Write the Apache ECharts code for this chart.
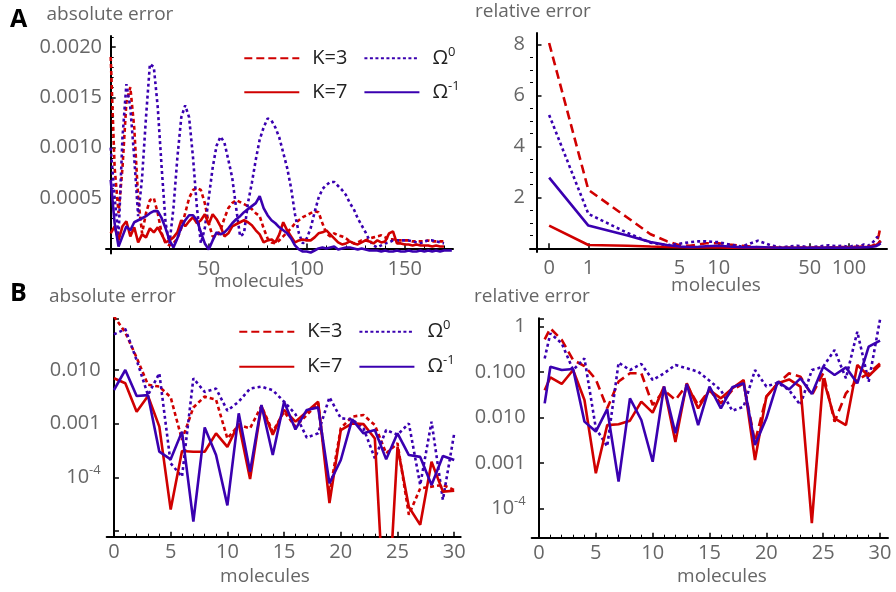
<!DOCTYPE html>
<html>
<head>
<meta charset="utf-8">
<script src="https://cdn.jsdelivr.net/npm/echarts@6/dist/echarts.min.js"></script>
<style>
  html, body { margin: 0; padding: 0; background: #ffffff; }
  #chart { width: 896px; height: 592px; }
</style>
</head>
<body>
<div id="chart"></div>
<script>
// ---------- Panel A, absolute error: molecules 0, 2, 4, ... ----------
const absStep = 2;
const absK3 = [0.0019, 0.0008, 0.00035, 0.0008, 0.00145, 0.0016, 0.0012, 0.0005, 0.00015, 0.00035,
  0.00048, 0.0005, 0.00035, 0.00015, 0.00005, 0.00003, 0.00005, 0.0001, 0.0002, 0.00035,
  0.0005, 0.00058, 0.0006, 0.00058, 0.00045, 0.00025, 0.00012, 0.00012, 0.00018, 0.0003,
  0.0004, 0.00045, 0.00048, 0.00046, 0.00044, 0.00042, 0.00039, 0.00035, 0.00032, 0.0002,
  0.0001, 0.00006, 0.00005, 0.00008, 0.00012, 0.00016, 0.0002, 0.00025, 0.00028, 0.00031,
  0.00033, 0.00035, 0.00037, 0.00036, 0.00025, 0.00015, 0.00012, 0.00015, 0.00013, 0.00012,
  0.0001, 0.00007, 0.00005, 0.00006, 0.00008, 0.00008, 0.0001, 0.00011, 0.00012, 0.00013,
  0.00011, 0.00009, 0.00009, 0.00008, 0.00008, 0.00008, 0.00008, 0.00007, 0.00007, 0.00007,
  0.00007, 0.00008, 0.00007, 0.00007, 0.00007, 0.00007];
const absK7 = [0.00015, 0.00022, 0.00008, 0.00022, 0.00027, 0.00012, 0.00021, 0.00006, 0.00014, 0.00011,
  0.0002, 0.00016, 0.00021, 0.00014, 0.00006, 0.00008, 0.00011, 0.00016, 0.00028, 0.00022,
  0.00027, 0.00031, 0.00025, 0.00028, 0.00034, 0.00024, 0.00034, 0.00029, 0.00022, 0.00012,
  0.00015, 0.00022, 0.00024, 0.00026, 0.00028, 0.00026, 0.00023, 0.00018, 0.00014, 0.00006,
  0.00008, 0.00009, 0.00006, 0.00014, 0.00026, 0.00018, 0.00012, 0.00006, 0.00008, 0.00009,
  0.00008, 0.00008, 0.00011, 0.00015, 0.00016, 0.00018, 0.00014, 0.0001, 0.00006, 0.00004,
  0.00005, 0.00007, 0.00005, 0.00004, 0.00006, 0.00008, 0.00007, 0.00005, 0.00008, 0.00006,
  0.00007, 0.00015, 0.00017, 0.00005, 0.00005, 0.00004, 0.00004, 0.00003, 0.00004, 0.00003,
  0.00003, 0.00003, 0.00002, 0.00003, 0.00002, 0.00002];
const absOmega0 = [0.001, 0.0005, 0.00012, 0.0011, 0.00163, 0.0014, 0.0009, 0.00032, 0.0007, 0.0013,
  0.00183, 0.0018, 0.0014, 0.0008, 0.00025, 0.00005, 0.0004, 0.0009, 0.0013, 0.00142,
  0.0013, 0.0009, 0.0004, 0.00005, 0.0002, 0.0005, 0.0008, 0.00102, 0.00111, 0.00105,
  0.00088, 0.0007, 0.0004, 0.00012, 0.00015, 0.00045, 0.00065, 0.00088, 0.00108, 0.0012,
  0.00129, 0.00127, 0.0012, 0.0011, 0.00095, 0.0008, 0.0006, 0.00034, 0.00015, 0.00005,
  0.0001, 0.0002, 0.00036, 0.0005, 0.00059, 0.00063, 0.00066, 0.00066, 0.00062, 0.00058,
  0.00053, 0.00045, 0.00039, 0.0003, 0.00023, 0.00016, 0.00008, 0.00003, 0.00001, 0.00003,
  0.00005, 0.00006, 0.00008, 0.00008, 0.00008, 0.00008, 0.00008, 0.00007, 0.00006, 0.00005,
  0.00007, 0.00008, 0.00008, 0.00007, 0.00006, 0.00005];
const absOmegaM1 = [0.00068, 0.00025, 0.00002, 0.00012, 0.00022, 0.00018, 0.00026, 0.00028, 0.0003, 0.00032,
  0.00035, 0.00037, 0.00037, 0.0003, 0.0002, 0.00008, 0.00001, 0.0001, 0.00021, 0.00028,
  0.00033, 0.00033, 0.00028, 0.00016, 0.00005, -0.00001, 0.00008, 0.00016, 0.00014, 0.00016,
  0.0002, 0.00025, 0.00029, 0.00032, 0.00036, 0.00039, 0.00042, 0.00045, 0.00052, 0.0004,
  0.00033, 0.00028, 0.00025, 0.00021, 0.00018, 0.00015, 0.0001, 0.00003, -0.00001, -0.00003,
  -0.00003, -0.00004, -0.00002, 0, 0.00001, 0, 0.00001, 0.00002, -0.00001, 0,
  0.00001, 0.00001, 0, -0.00001, 0, -0.00001, -0.00002, -0.00002, -0.00002, -0.00003,
  -0.00002, -0.00003, -0.00003, -0.00002, -0.00003, -0.00003, -0.00002, -0.00003, -0.00003, -0.00002,
  -0.00003, -0.00002, -0.00003, -0.00002, -0.00003, -0.00002, -0.00002, -0.00002];
const absXTicks = [50, 100, 150];
const absYTicks = [0.0005, 0.001, 0.0015, 0.002];

// ---------- Panel A, relative error (log-spaced molecules; 0 sits at 0.5) ----------
const relMolecules = [0, 1, 2, 3, 4, 5, 6, 7, 8, 10, 12, 15, 20, 25, 30, 40, 50, 60, 70, 80,
  90, 100, 110, 120, 130, 140, 150, 160, 165, 170, 175];
const relK3 = [8.05, 2.29, 1.2, 0.55, 0.28, 0.12, 0.1, 0.15, 0.2, 0.2, 0.15, 0.1, 0.04, 0.03, 0.02,
  0.02, 0.03, 0.02, 0.03, 0.04, 0.05, 0.04, 0.06, 0.05, 0.08, 0.06, 0.1, 0.15, 0.3, 0.55, 0.88];
const relK7 = [0.89, 0.13, 0.1, 0.07, 0.05, 0.04, 0.03, 0.03, 0.03, 0.03, 0.02, 0.02, 0.02, 0.02, 0.02,
  0.02, 0.02, 0.02, 0.02, 0.03, 0.03, 0.03, 0.04, 0.05, 0.05, 0.06, 0.08, 0.1, 0.15, 0.22, 0.3];
const relOmega0 = [5.23, 1.35, 0.6, 0.22, 0.12, 0.18, 0.24, 0.27, 0.27, 0.24, 0.15, 0.07, 0.3, 0.12, 0.04,
  0.1, 0.04, 0.08, 0.12, 0.08, 0.1, 0.05, 0.12, 0.08, 0.15, 0.1, 0.2, 0.35, 0.45, 0.3, 0.2];
const relOmegaM1 = [2.77, 0.89, 0.5, 0.25, 0.13, 0.07, 0.05, 0.06, 0.08, 0.1, 0.07, 0.04, 0.05, 0.03, 0.02,
  0.02, 0.02, 0.02, 0.03, 0.02, 0.03, 0.02, 0.03, 0.03, 0.04, 0.04, 0.06, 0.08, 0.12, 0.15, 0.2];
const relXTicks = [0, 1, 5, 10, 50, 100];
const relYTicks = [2, 4, 6, 8];

// ---------- Panel B, absolute error: molecules 0..30 ----------
const bMolecules = [0, 1, 2, 3, 4, 5, 6, 7, 8, 9, 10, 11, 12, 13, 14, 15, 16, 17, 18, 19, 20,
  21, 22, 23, 24, 25, 26, 27, 28, 29, 30];
const bAbsK3 = [0.1, 0.05, 0.017, 0.0053, 0.0049, 0.0031, 0.0005, 0.002, 0.0032, 0.0028, 0.00053,
  0.00094, 0.00082, 0.00213, 0.00071, 0.00167, 0.00088, 0.00145, 0.0024, 0.00005, 0.00082,
  0.00135, 0.00145, 0.00094, 0.00028, 0.00043, 0.00002, 0.000062, 0.000067, 0.000072, 0.000058];
const bAbsK7 = [0.007, 0.00565, 0.00167, 0.00327, 0.00088, 0.000025, 0.00031, 0.0003, 0.0003, 0.00066, 0.00037,
  0.00101, 0.000093, 0.00213, 0.00062, 0.0018, 0.00109, 0.00167, 0.00257, 0.000033, 0.00076,
  0.00101, 0.00098, 0.00053, 0.00000007, 0.00037, 0.000028, 0.000013, 0.000195, 0.000054, 0.000056];
const bAbsOmega0 = [0.046, 0.058, 0.0153, 0.0034, 0.0087, 0.000182, 0.000103, 0.007, 0.0039, 0.0045, 0.00175,
  0.00257, 0.0045, 0.0049, 0.0042, 0.00257, 0.0015, 0.00055, 0.00066, 0.0031, 0.00126,
  0.0012, 0.00082, 0.000226, 0.00076, 0.00062, 0.00101, 0.000072, 0.00109, 0.000038, 0.00066];
const bAbsOmegaM1 = [0.00424, 0.01, 0.00327, 0.0034, 0.0003, 0.000216, 0.00071, 0.000015, 0.00085, 0.00026, 0.00003,
  0.00156, 0.000127, 0.00223, 0.00026, 0.00257, 0.00078, 0.0018, 0.00201, 0.000077, 0.00021,
  0.0012, 0.00066, 0.00076, 0.000216, 0.00066, 0.00026, 0.00024, 0.000072, 0.00025, 0.00021];

// ---------- Panel B, relative error: the 0-molecule point is drawn at 0.5 ----------
const bRelMolecules = [0.5, 1, 2, 3, 4, 5, 6, 7, 8, 9, 10, 11, 12, 13, 14, 15, 16, 17, 18, 19, 20,
  21, 22, 23, 24, 25, 26, 27, 28, 29, 30];
const bRelK3 = [0.526, 0.92, 0.51, 0.185, 0.136, 0.069, 0.0159, 0.062, 0.094, 0.094, 0.0188,
  0.04, 0.0243, 0.052, 0.0188, 0.04, 0.0204, 0.04, 0.0565, 0.0029, 0.0287,
  0.0565, 0.094, 0.079, 0.031, 0.094, 0.0081, 0.034, 0.067, 0.094, 0.156];
const bRelK7 = [0.04, 0.0766, 0.0547, 0.111, 0.0243, 0.00059, 0.0068, 0.0071, 0.0085, 0.0223, 0.0128,
  0.0478, 0.0029, 0.0565, 0.0159, 0.04, 0.0264, 0.0438, 0.067, 0.00116, 0.0287,
  0.0565, 0.069, 0.0478, 0.000047, 0.0728, 0.0096, 0.0068, 0.143, 0.082, 0.143];
const bRelOmega0 = [0.2, 0.71, 0.43, 0.111, 0.2, 0.0058, 0.0023, 0.161, 0.111, 0.151, 0.067,
  0.094, 0.143, 0.121, 0.102, 0.0646, 0.04, 0.0141, 0.0173, 0.111, 0.048,
  0.0585, 0.04, 0.0188, 0.111, 0.131, 0.306, 0.0728, 0.776, 0.0615, 1.45];
const bRelOmegaM1 = [0.0205, 0.131, 0.111, 0.117, 0.0081, 0.0049, 0.0153, 0.00039, 0.0264, 0.0088, 0.00106,
  0.048, 0.0045, 0.0547, 0.0068, 0.048, 0.0159, 0.0462, 0.0565, 0.00247, 0.0096,
  0.0615, 0.0417, 0.0728, 0.0329, 0.131, 0.0863, 0.127, 0.0565, 0.363, 0.492];
const bXTicks = [0, 5, 10, 15, 20, 25, 30];

// ---------- styling ----------
const FONT = "'Open Sans', 'DejaVu Sans', sans-serif";
const GRAY = '#666666';
const INK = '#222222';
const RED = '#d00000';
const BLUE = '#3a00b0';
const LW = 2.6;
const DASH_LONG = [9, 5];
const DASH_SHORT = [4, 3];
const DOTS = [3, 3];

// the relative-error molecule axis is logarithmic, its y-axis crossing at 0.4 molecules
const X_CROSS = 0.4;
const logPos = n => Math.log10(n === 0 ? 0.5 : n) - Math.log10(X_CROSS);

const labelRich = {
  b: { fontSize: 20, lineHeight: 26, color: GRAY, fontFamily: FONT },
  s: { fontSize: 13, lineHeight: 13, verticalAlign: 'top', color: GRAY, fontFamily: FONT }
};
const tickLabel = extra => Object.assign({
  color: GRAY, fontFamily: FONT, fontSize: 20, margin: 6
}, extra);
const axisLine = onZero => ({ onZero, lineStyle: { color: '#000', width: 2 } });
const majorTick = vals => ({
  show: true, inside: true, length: 5, customValues: vals,
  lineStyle: { color: '#000', width: 1.5 }
});
const range = (a, b, step, skip) => {
  const out = [];
  for (let v = a; v <= b + 1e-12; v += step) {
    const r = Math.round(v * 1e6) / 1e6;
    if (!skip(r)) out.push(r);
  }
  return out;
};

function logLabel(v) {
  const e = Math.log10(v);
  const k = Math.round(e);
  if (Math.abs(e - k) > 1e-6) return '';
  if (k === 0) return '1';
  if (k === -1) return '0.100';
  if (k === -2) return '0.010';
  if (k === -3) return '0.001';
  if (k === -4) return '{b|10}{s|-4}';
  return '';
}

function minorAxis(base, vals) {
  return Object.assign({}, base, {
    axisLine: { show: false, onZero: base.axisLine.onZero },
    axisLabel: { show: false },
    axisTick: { show: true, inside: true, length: 3, customValues: vals, lineStyle: { color: '#000', width: 1 } },
    splitLine: { show: false }
  });
}

// ---------- axes ----------
const xA = {
  gridIndex: 0, type: 'value', position: 'bottom', min: -2.4, max: 174.6,
  axisLine: axisLine(true), axisTick: majorTick(absXTicks),
  axisLabel: tickLabel({ customValues: absXTicks }), splitLine: { show: false }
};
const yA = {
  gridIndex: 0, type: 'value', position: 'left', min: -0.00005, max: 0.002108,
  axisLine: axisLine(true), axisTick: majorTick(absYTicks),
  axisLabel: tickLabel({ customValues: absYTicks, margin: 4, formatter: v => v.toFixed(4) }),
  splitLine: { show: false }
};
const xAR = {
  gridIndex: 1, type: 'value', position: 'bottom', min: -0.05, max: 2.69,
  axisLine: axisLine(true), axisTick: majorTick(relXTicks.map(logPos)),
  axisLabel: tickLabel({
    customValues: relXTicks.map(logPos),
    formatter: v => {
      const i = relXTicks.findIndex(t => Math.abs(logPos(t) - v) < 1e-6);
      return i < 0 ? '' : String(relXTicks[i]);
    }
  }),
  splitLine: { show: false }
};
const yAR = {
  gridIndex: 1, type: 'value', position: 'left', min: -0.145, max: 8.443,
  axisLine: axisLine(true), axisTick: majorTick(relYTicks),
  axisLabel: tickLabel({ customValues: relYTicks, margin: 5 }), splitLine: { show: false }
};
const xB = {
  gridIndex: 2, type: 'value', position: 'bottom', min: -0.64, max: 30.57,
  axisLine: axisLine(false), axisTick: majorTick(bXTicks),
  axisLabel: tickLabel({ customValues: bXTicks }), splitLine: { show: false }
};
const yB = {
  gridIndex: 2, type: 'log', logBase: 10, position: 'left', min: 7.81e-6, max: 0.092,
  axisLine: axisLine(true),
  axisTick: { show: true, inside: true, length: 5, lineStyle: { color: '#000', width: 1.5 } },
  axisLabel: tickLabel({ formatter: logLabel, rich: labelRich }),
  splitLine: { show: false }, minorTick: { show: false }
};
const xBR = {
  gridIndex: 3, type: 'value', position: 'bottom', min: -0.642, max: 30.7,
  axisLine: axisLine(false), axisTick: majorTick(bXTicks),
  axisLabel: tickLabel({ customValues: bXTicks }), splitLine: { show: false }
};
const yBR = {
  gridIndex: 3, type: 'log', logBase: 10, position: 'left', min: 2.25e-5, max: 1.53,
  axisLine: axisLine(true),
  axisTick: { show: true, inside: true, length: 5, lineStyle: { color: '#000', width: 1.5 } },
  axisLabel: tickLabel({ formatter: logLabel, rich: labelRich }),
  splitLine: { show: false }, minorTick: { show: false }
};

const xMinorA = range(10, 170, 10, v => v % 50 === 0);
const yMinorA = range(0.0001, 0.0021, 0.0001, v => Math.abs(v / 0.0005 - Math.round(v / 0.0005)) < 1e-6);
const yMinorAR = range(0.5, 8, 0.5, v => v % 2 === 0);
const xMinorB = range(1, 30, 1, v => v % 5 === 0);

// ---------- series ----------
function lineSeries(name, xs, ys, axis, color, dash) {
  return {
    type: 'line', name, xAxisIndex: axis, yAxisIndex: axis,
    data: xs.map((x, i) => [x, ys[i]]),
    symbol: 'none', showSymbol: false, silent: true, clip: true,
    lineStyle: { color, width: LW, type: dash || 'solid', cap: 'butt' },
    itemStyle: { color }
  };
}
const absX = absOmegaM1.map((_, i) => i * absStep);
const relX = relMolecules.map(logPos);

const series = [
  lineSeries('K=3', absX, absK3, 0, RED, DASH_SHORT),
  lineSeries('Ω0', absX, absOmega0, 0, BLUE, DOTS),
  lineSeries('K=7', absX, absK7, 0, RED),
  lineSeries('Ω-1', absX, absOmegaM1, 0, BLUE),

  lineSeries('K=3', relX, relK3, 1, RED, DASH_LONG),
  lineSeries('Ω0', relX, relOmega0, 1, BLUE, DOTS),
  lineSeries('K=7', relX, relK7, 1, RED),
  lineSeries('Ω-1', relX, relOmegaM1, 1, BLUE),

  lineSeries('K=3', bMolecules, bAbsK3, 2, RED, DASH_SHORT),
  lineSeries('Ω0', bMolecules, bAbsOmega0, 2, BLUE, DOTS),
  lineSeries('K=7', bMolecules, bAbsK7, 2, RED),
  lineSeries('Ω-1', bMolecules, bAbsOmegaM1, 2, BLUE),

  lineSeries('K=3', bRelMolecules, bRelK3, 3, RED, DASH_LONG),
  lineSeries('Ω0', bRelMolecules, bRelOmega0, 3, BLUE, DOTS),
  lineSeries('K=7', bRelMolecules, bRelK7, 3, RED),
  lineSeries('Ω-1', bRelMolecules, bRelOmegaM1, 3, BLUE)
];

// ---------- legends ----------
const LEGEND_TEXT = { 'K=3': '{t|K=3}', 'K=7': '{t|K=7}', 'Ω0': '{t|Ω}{s|0}', 'Ω-1': '{t|Ω}{s|-1}' };
const LEGEND_DASH = { 'K=3': [8, 4], 'K=7': 'solid', 'Ω0': [3, 2.5], 'Ω-1': 'solid' };
const legendRich = {
  t: { fontSize: 20, lineHeight: 26, color: INK, fontFamily: FONT, padding: [0, 0, 0, 8] },
  s: { fontSize: 13, lineHeight: 13, verticalAlign: 'top', color: INK, fontFamily: FONT }
};
function legendRow(left, centerY, names) {
  return {
    left, top: centerY - 13, padding: 0, orient: 'horizontal',
    itemWidth: 55, itemHeight: 14, itemGap: 16, selectedMode: false,
    data: names.map(n => ({ name: n, lineStyle: { type: LEGEND_DASH[n] } })),
    formatter: n => LEGEND_TEXT[n],
    textStyle: { fontFamily: FONT, fontSize: 20, color: INK, rich: legendRich },
    itemStyle: { opacity: 0 }
  };
}

// ---------- captions ----------
function caption(text, x, y, extra) {
  const style = Object.assign({
    text, fill: GRAY, font: `19px ${FONT}`,
    align: 'left', textAlign: 'left', verticalAlign: 'middle', textVerticalAlign: 'middle'
  }, extra || {});
  return { type: 'text', x, y, silent: true, style };
}
const bold = { fill: '#000', font: `bold 25px ${FONT}` };
const centered = { align: 'center', textAlign: 'center' };

const option = {
  animation: false,
  textStyle: { fontFamily: FONT },
  grid: [
    { left: 106, top: 36, width: 347, height: 217.5, outerBoundsMode: 'none' },
    { left: 530, top: 33, width: 357, height: 219, outerBoundsMode: 'none' },
    { left: 106.7, top: 318.3, width: 354, height: 218.4, outerBoundsMode: 'none' },
    { left: 531.7, top: 318.3, width: 356.3, height: 219.4, outerBoundsMode: 'none' }
  ],
  xAxis: [xA, xAR, xB, xBR, minorAxis(xA, xMinorA), minorAxis(xB, xMinorB), minorAxis(xBR, xMinorB)],
  yAxis: [yA, yAR, yB, yBR, minorAxis(yA, yMinorA), minorAxis(yAR, yMinorAR)],
  legend: [
    legendRow(243.3, 58.3, ['K=3', 'Ω0']),
    legendRow(243.3, 92.3, ['K=7', 'Ω-1']),
    legendRow(238.3, 331.7, ['K=3', 'Ω0']),
    legendRow(238.3, 366.7, ['K=7', 'Ω-1'])
  ],
  series,
  graphic: [
    caption('A', 10, 20, bold),
    caption('absolute error', 46.5, 15),
    caption('relative error', 475, 12),
    caption('molecules', 259, 282, centered),
    caption('molecules', 716, 286, centered),
    caption('B', 10, 294, bold),
    caption('absolute error', 49, 297),
    caption('relative error', 474, 297),
    caption('molecules', 265, 577, centered),
    caption('molecules', 722, 577, centered)
  ]
};

const chart = echarts.init(document.getElementById('chart'), null, { renderer: 'canvas' });
chart.setOption(option);
</script>
</body>
</html>
